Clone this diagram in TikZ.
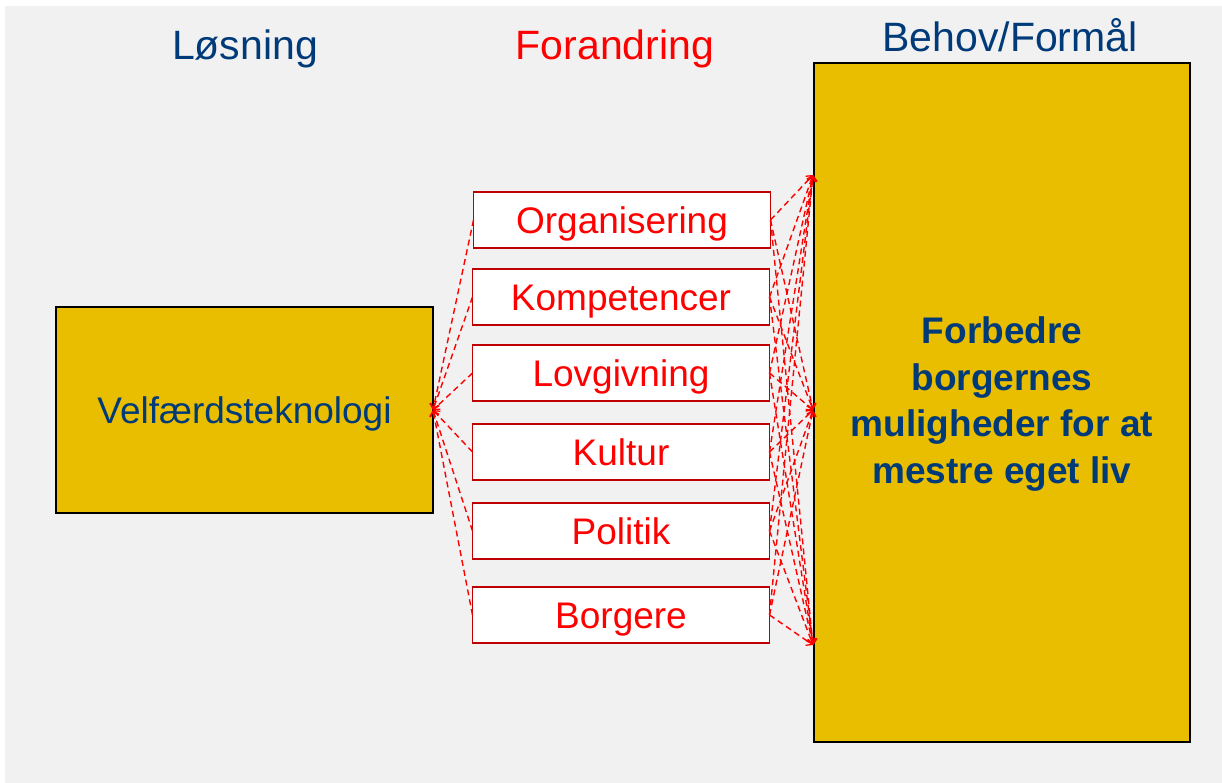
\documentclass[tikz,border=0pt]{standalone}
\usepackage{fontspec}
\setmainfont{Liberation Sans}
\usetikzlibrary{arrows.meta}
\definecolor{bg}{RGB}{241,241,241}
\definecolor{gold}{RGB}{234,190,0}
\definecolor{navy}{RGB}{0,58,120}
\definecolor{brick}{RGB}{192,0,0}
\definecolor{hotred}{RGB}{255,0,0}
\tikzset{
  goldbox/.style={draw=black, line width=1.5pt, fill=gold, inner sep=0pt, outer sep=0pt},
  changebox/.style={draw=brick, line width=1.5pt, fill=white, inner sep=0pt, outer sep=0pt,
     minimum width=297pt, minimum height=56pt, text=hotred, text height=27pt, text depth=0pt,
     font=\fontsize{37}{40}\selectfont},
  title/.style={anchor=base, inner sep=0pt, font=\fontsize{41}{44}\selectfont},
  link/.style={draw=hotred, line width=1.4pt, dash pattern=on 6pt off 4pt,
     -{Straight Barb[length=5pt,width=9pt,line width=1.3pt]}},
}
\begin{document}
\begin{tikzpicture}[x=1pt,y=-1pt]
\useasboundingbox (0,0) rectangle (1222,783);
\fill[bg] (5,6) rectangle (1222,783);
% titles
\node[title, text=navy] (tl) at (245,60) {Løsning};
\node[title, text=hotred] (tm) at (615,60) {Forandring};
\node[title, text=navy] (tr) at (1010,52) {Behov/Formål};
% main boxes
\node[goldbox, minimum width=377pt, minimum height=206pt, text=navy,
      text height=27pt, text depth=0pt,
      font=\fontsize{37}{40}\selectfont] (vel) at (244.5,410) {Velfærdsteknologi};
\node[goldbox, minimum width=376pt, minimum height=679pt] (beh) at (1002,402.5) {};
\node[text=navy, align=center, inner sep=0pt, font=\fontsize{37}{46.5}\selectfont\bfseries]
   (behtxt) at (1002,404) {Forbedre\\borgernes\\muligheder for at\\mestre eget liv};
% change boxes
\node[changebox] (c1) at (622,220) {Organisering};
\node[changebox] (c2) at (621,297) {Kompetencer};
\node[changebox] (c3) at (621,373) {Lovgivning};
\node[changebox] (c4) at (621,452) {Kultur};
\node[changebox] (c5) at (621,531) {Politik};
\node[changebox] (c6) at (621,615) {Borgere};
% targets on the big box
\coordinate (t1) at (813,175);
\coordinate (t2) at (813,410);
\coordinate (t3) at (813,645);
% connectors
\foreach \c in {c1,c2,c3,c4,c5,c6}{
  \draw[link] (\c.west) -- (vel.east);
  \foreach \t in {t1,t2,t3}{
    \draw[link] (\c.east) -- (\t);
  }
}
\end{tikzpicture}
\end{document}
